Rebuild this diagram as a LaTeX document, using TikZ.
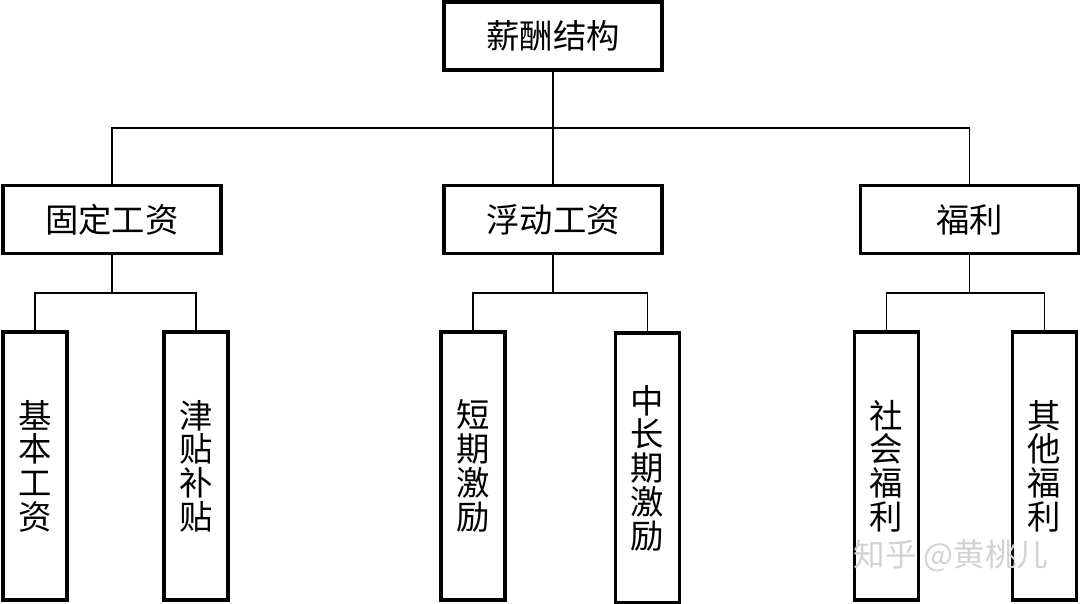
\documentclass[tikz,border=0pt]{standalone}
\usepackage{fontspec}
\setmainfont{Noto Sans CJK SC}
\usepackage{tikz}

\begin{document}
\begin{tikzpicture}[x=0.02cm,y=-0.02cm,
    box/.style={draw,line width=2pt,inner sep=0pt,font=\fontsize{19}{19.2}\selectfont},
    widebox/.style={box,minimum width=4.36cm,minimum height=1.36cm},
    tallbox/.style={box,minimum width=1.28cm,minimum height=5.36cm,align=center},
    link/.style={line width=0.8pt}]
  % Configurable parameters
  \def\busy{128}
  \def\suby{293}
  %
  % Frame
  \useasboundingbox (0,0) rectangle (1080,604);
  %
  % Top and middle boxes
  \node[widebox] (pay) at (553,36) {薪酬结构};
  \node[widebox] (fixed) at (112,219.5) {固定工资};
  \node[widebox] (float) at (553,219.5) {浮动工资};
  \node[widebox] (welfare) at (969.5,219.5) {福利};
  %
  % Bottom boxes
  \node[tallbox] (basic) at (35,466) {基\\本\\工\\资};
  \node[tallbox] (allow) at (196,466) {津\\贴\\补\\贴};
  \node[tallbox] (short) at (473,466) {短\\期\\激\\励};
  \node[tallbox,minimum height=5.4cm] (long) at (647.5,468) {中\\长\\期\\激\\励};
  \node[tallbox] (social) at (886.5,466) {社\\会\\福\\利};
  \node[tallbox] (other) at (1044.5,466) {其\\他\\福\\利};
  %
  % Buses
  \coordinate (bus) at (0,\busy);
  \coordinate (sub) at (0,\suby);
  %
  % Connectors
  \draw[link] (pay.south) -- (pay.south |- bus);
  \draw[link] (fixed.north) |- (welfare.north |- bus) -- (welfare.north);
  \draw[link] (float.north) -- (float.north |- bus);
  \draw[link] (fixed.south) -- (fixed.south |- sub);
  \draw[link] (basic.north) |- (allow.north |- sub) -- (allow.north);
  \draw[link] (float.south) -- (float.south |- sub);
  \draw[link] (short.north) |- (long.north |- sub) -- (long.north);
  \draw[link] (welfare.south) -- (welfare.south |- sub);
  \draw[link] (social.north) |- (other.north |- sub) -- (other.north);
  %
  % Watermark
  \node[gray!35,font=\fontsize{18}{18}\selectfont] (mark) at (951,556) {知乎 @黄桃儿};
\end{tikzpicture}
\end{document}
